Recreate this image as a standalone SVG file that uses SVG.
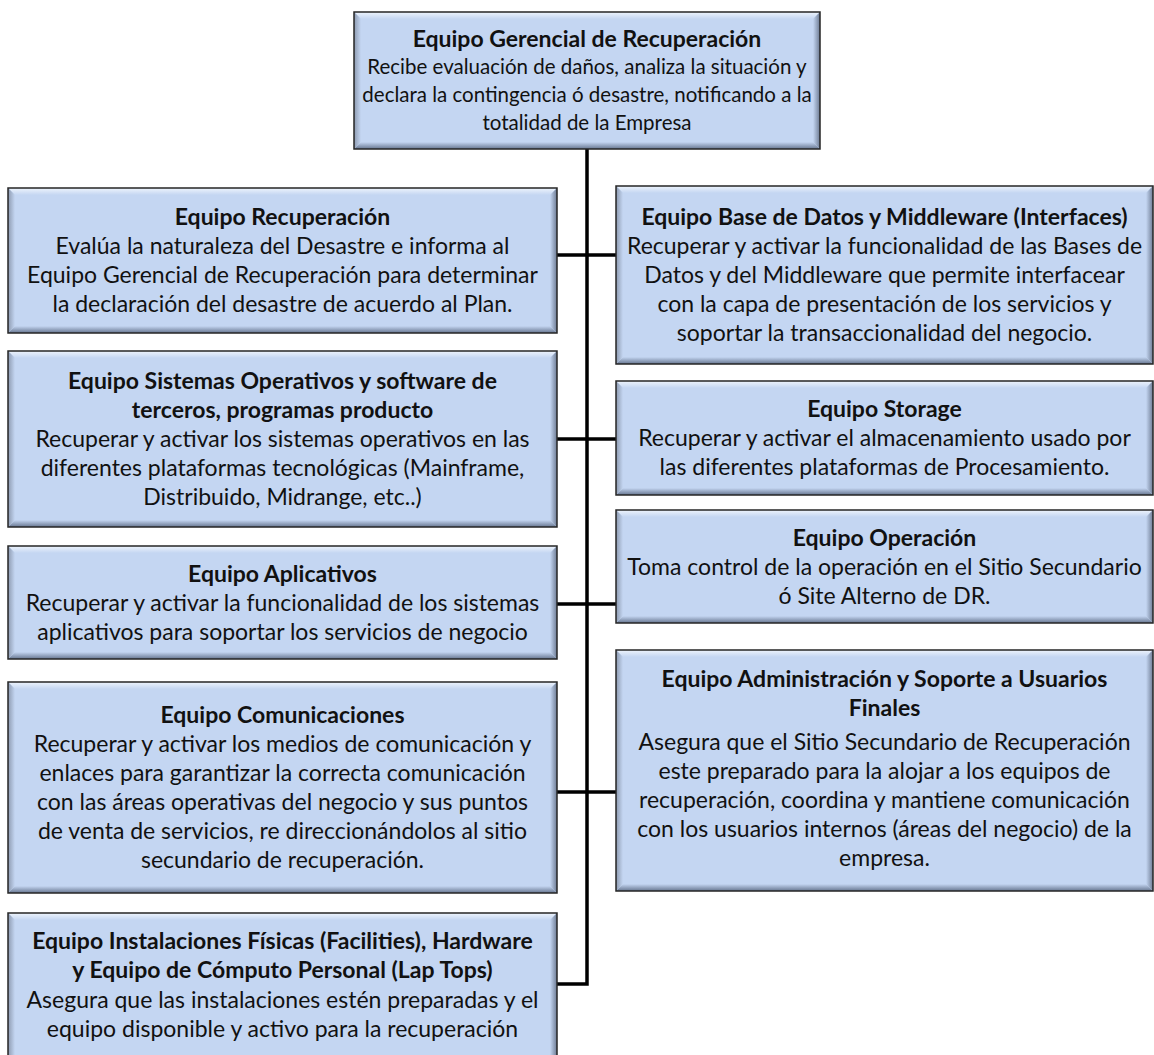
<svg xmlns="http://www.w3.org/2000/svg" width="1154" height="1055" viewBox="0 0 1154 1055">
<defs>
<linearGradient id="gTop" x1="0" y1="0" x2="0" y2="1"><stop offset="0" stop-color="#eef4fc"/><stop offset="1" stop-color="#c4d6f2"/></linearGradient>
<linearGradient id="gBot" x1="0" y1="0" x2="0" y2="1"><stop offset="0" stop-color="#c4d6f2"/><stop offset="1" stop-color="#66758f"/></linearGradient>
<linearGradient id="gRight" x1="0" y1="0" x2="1" y2="0"><stop offset="0" stop-color="#c4d6f2"/><stop offset="1" stop-color="#6d7b93"/></linearGradient>
<linearGradient id="gLeft" x1="0" y1="0" x2="1" y2="0"><stop offset="0" stop-color="#8d9ab0"/><stop offset="1" stop-color="#c4d6f2"/></linearGradient>
</defs>
<style>
.body{fill:#c4d6f2}
.bt{fill:url(#gTop)}
.bb{fill:url(#gBot)}
.br{fill:url(#gRight)}
.bl{fill:url(#gLeft)}
.edge{fill:none;stroke:#262626;stroke-width:1.5}
.conn{fill:none;stroke:#000;stroke-width:3.5}
text{font-family:Lato,"Liberation Sans",sans-serif;font-size:23px;fill:#111;text-anchor:middle}
.t{font-weight:bold}
.s{font-size:20.5px}
</style>
<rect width="1154" height="1055" fill="#fff"/>
<g id="connectors">
<path class="conn" d="M587 149 V984 H557 M557 255 H616 M557 439 H616 M557 604 H616 M557 792 H616"/>
</g>
<g id="n-gerencial">
<rect class="body" x="354" y="12" width="466" height="137"/>
<polygon class="bt" points="354,12 820,12 813,19 361,19"/>
<polygon class="bb" points="354,149 820,149 813,142 361,142"/>
<polygon class="bl" points="354,12 361,19 361,142 354,149"/>
<polygon class="br" points="820,12 813,19 813,142 820,149"/>
<rect class="edge" x="354" y="12" width="466" height="137"/>
<text class="t" x="587" y="46.5">Equipo Gerencial de Recuperación</text>
<text class="s" x="587" y="74">Recibe evaluación de daños, analiza la situación y</text>
<text class="s" x="587" y="102">declara la contingencia ó desastre, notificando a la</text>
<text class="s" x="587" y="130">totalidad de la Empresa</text>
</g>
<g id="n-recuperacion">
<rect class="body" x="8" y="188" width="549" height="145"/>
<polygon class="bt" points="8,188 557,188 550,195 15,195"/>
<polygon class="bb" points="8,333 557,333 550,326 15,326"/>
<polygon class="bl" points="8,188 15,195 15,326 8,333"/>
<polygon class="br" points="557,188 550,195 550,326 557,333"/>
<rect class="edge" x="8" y="188" width="549" height="145"/>
<text class="t" x="282.5" y="225">Equipo Recuperación</text>
<text x="282.5" y="254">Evalúa la naturaleza del Desastre e informa  al</text>
<text x="282.5" y="283">Equipo Gerencial de Recuperación para  determinar</text>
<text x="282.5" y="312">la declaración del desastre de acuerdo al Plan.</text>
</g>
<g id="n-sistemas">
<rect class="body" x="8" y="351" width="549" height="176"/>
<polygon class="bt" points="8,351 557,351 550,358 15,358"/>
<polygon class="bb" points="8,527 557,527 550,520 15,520"/>
<polygon class="bl" points="8,351 15,358 15,520 8,527"/>
<polygon class="br" points="557,351 550,358 550,520 557,527"/>
<rect class="edge" x="8" y="351" width="549" height="176"/>
<text class="t" x="282.5" y="389">Equipo Sistemas Operativos y software de</text>
<text class="t" x="282.5" y="418">terceros, programas producto</text>
<text x="282.5" y="447">Recuperar y activar los sistemas operativos en las</text>
<text x="282.5" y="476">diferentes plataformas tecnológicas (Mainframe,</text>
<text x="282.5" y="505">Distribuido, Midrange, etc..)</text>
</g>
<g id="n-aplicativos">
<rect class="body" x="8" y="546" width="549" height="113"/>
<polygon class="bt" points="8,546 557,546 550,553 15,553"/>
<polygon class="bb" points="8,659 557,659 550,652 15,652"/>
<polygon class="bl" points="8,546 15,553 15,652 8,659"/>
<polygon class="br" points="557,546 550,553 550,652 557,659"/>
<rect class="edge" x="8" y="546" width="549" height="113"/>
<text class="t" x="282.5" y="582">Equipo Aplicativos</text>
<text x="282.5" y="611">Recuperar y activar la funcionalidad de los sistemas</text>
<text x="282.5" y="640">aplicativos para soportar los servicios de negocio</text>
</g>
<g id="n-comunicaciones">
<rect class="body" x="8" y="682" width="549" height="211"/>
<polygon class="bt" points="8,682 557,682 550,689 15,689"/>
<polygon class="bb" points="8,893 557,893 550,886 15,886"/>
<polygon class="bl" points="8,682 15,689 15,886 8,893"/>
<polygon class="br" points="557,682 550,689 550,886 557,893"/>
<rect class="edge" x="8" y="682" width="549" height="211"/>
<text class="t" x="282.5" y="723">Equipo Comunicaciones</text>
<text x="282.5" y="752">Recuperar y activar los medios de comunicación y</text>
<text x="282.5" y="781">enlaces para garantizar la correcta comunicación</text>
<text x="282.5" y="810">con las áreas operativas del negocio y sus puntos</text>
<text x="282.5" y="839">de venta de servicios, re direccionándolos  al sitio</text>
<text x="282.5" y="868">secundario de recuperación.</text>
</g>
<g id="n-instalaciones">
<rect class="body" x="8" y="913" width="549" height="160"/>
<polygon class="bt" points="8,913 557,913 550,920 15,920"/>
<polygon class="bl" points="8,913 15,920 15,1073 8,1073"/>
<polygon class="br" points="557,913 550,920 550,1073 557,1073"/>
<rect class="edge" x="8" y="913" width="549" height="160"/>
<text class="t" x="282.5" y="949">Equipo Instalaciones Físicas (Facilities), Hardware</text>
<text class="t" x="282.5" y="978">y Equipo de Cómputo Personal (Lap Tops)</text>
<text x="282.5" y="1008">Asegura que las instalaciones estén preparadas y el</text>
<text x="282.5" y="1037">equipo disponible y activo para la recuperación</text>
</g>
<g id="n-basedatos">
<rect class="body" x="616" y="186" width="537" height="178"/>
<polygon class="bt" points="616,186 1153,186 1146,193 623,193"/>
<polygon class="bb" points="616,364 1153,364 1146,357 623,357"/>
<polygon class="bl" points="616,186 623,193 623,357 616,364"/>
<polygon class="br" points="1153,186 1146,193 1146,357 1153,364"/>
<rect class="edge" x="616" y="186" width="537" height="178"/>
<text class="t" x="884.5" y="225">Equipo Base de Datos y Middleware (Interfaces)</text>
<text x="884.5" y="254">Recuperar y activar la funcionalidad de las Bases de</text>
<text x="884.5" y="283">Datos y del Middleware que permite  interfacear</text>
<text x="884.5" y="312">con la capa de presentación de los servicios y</text>
<text x="884.5" y="341">soportar la transaccionalidad del negocio.</text>
</g>
<g id="n-storage">
<rect class="body" x="616" y="381" width="537" height="114"/>
<polygon class="bt" points="616,381 1153,381 1146,388 623,388"/>
<polygon class="bb" points="616,495 1153,495 1146,488 623,488"/>
<polygon class="bl" points="616,381 623,388 623,488 616,495"/>
<polygon class="br" points="1153,381 1146,388 1146,488 1153,495"/>
<rect class="edge" x="616" y="381" width="537" height="114"/>
<text class="t" x="884.5" y="417">Equipo Storage</text>
<text x="884.5" y="446">Recuperar y activar el almacenamiento usado por</text>
<text x="884.5" y="475">las diferentes plataformas de Procesamiento.</text>
</g>
<g id="n-operacion">
<rect class="body" x="616" y="510" width="537" height="113"/>
<polygon class="bt" points="616,510 1153,510 1146,517 623,517"/>
<polygon class="bb" points="616,623 1153,623 1146,616 623,616"/>
<polygon class="bl" points="616,510 623,517 623,616 616,623"/>
<polygon class="br" points="1153,510 1146,517 1146,616 1153,623"/>
<rect class="edge" x="616" y="510" width="537" height="113"/>
<text class="t" x="884.5" y="546">Equipo Operación</text>
<text x="884.5" y="575">Toma control de la operación en el Sitio Secundario</text>
<text x="884.5" y="604">ó Site Alterno de DR.</text>
</g>
<g id="n-administracion">
<rect class="body" x="616" y="650" width="537" height="241"/>
<polygon class="bt" points="616,650 1153,650 1146,657 623,657"/>
<polygon class="bb" points="616,891 1153,891 1146,884 623,884"/>
<polygon class="bl" points="616,650 623,657 623,884 616,891"/>
<polygon class="br" points="1153,650 1146,657 1146,884 1153,891"/>
<rect class="edge" x="616" y="650" width="537" height="241"/>
<text class="t" x="884.5" y="687">Equipo Administración y Soporte a Usuarios</text>
<text class="t" x="884.5" y="716">Finales</text>
<text x="884.5" y="750">Asegura que el Sitio Secundario de Recuperación</text>
<text x="884.5" y="779">este preparado para la alojar a los equipos de</text>
<text x="884.5" y="808">recuperación, coordina y mantiene comunicación</text>
<text x="884.5" y="837">con los usuarios internos (áreas del negocio) de la</text>
<text x="884.5" y="866">empresa.</text>
</g>
</svg>
